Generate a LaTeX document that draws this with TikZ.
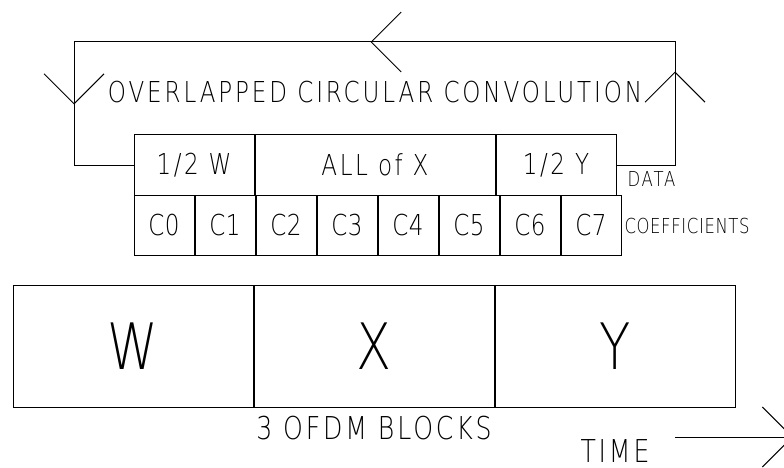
\documentclass[tikz,border=0pt]{standalone}
\usepackage{fontspec}
\newfontfamily\cadfont[FakeStretch=0.8, LetterSpace=9]{DejaVu Sans ExtraLight}
\usetikzlibrary{arrows.meta, positioning, decorations.markings}

\begin{document}
\begin{tikzpicture}[
  x=1pt, y=-1pt, line width=1pt,
  barb/.tip={Straight Barb[length=30pt, width=60pt]},
  cell/.style={draw, minimum height=60pt, minimum width=#1, inner sep=0pt,
    font=\cadfont\fontsize{28.8}{30}\selectfont},
  cell/.default=60pt,
  coef/.style={cell, font=\cadfont\fontsize{28.8}{30}\selectfont\addfontfeature{LetterSpace=2}},
  block/.style={draw, minimum width=240pt, minimum height=122pt, inner sep=0pt,
    font=\cadfont\fontsize{64}{66}\selectfont},
  lbl/.style={inner sep=0pt, font=\cadfont\fontsize{#1}{#1}\selectfont},
  flow/.style={postaction={decorate}, decoration={markings,
    mark=at position 152pt with {\arrow{barb}},
    mark=at position 486pt with {\arrow{barb}},
    mark=at position 845pt with {\arrow{barb}}}}
]
  \useasboundingbox (0,0) rectangle (784,468);

  % data row
  \node[cell=120pt] (halfW) at (194,165) {1/2 W};
  \node[cell=240pt, right=0pt of halfW] (allX) {ALL of X};
  \node[cell=120pt, right=0pt of allX] (halfY) {1/2 Y};

  % coefficient row
  \node[coef] (c0) at (164,225) {C0};
  \node[coef, right=0pt of c0] (c1) {C1};
  \node[coef, right=0pt of c1] (c2) {C2};
  \node[coef, right=0pt of c2] (c3) {C3};
  \node[coef, right=0pt of c3] (c4) {C4};
  \node[coef, right=0pt of c4] (c5) {C5};
  \node[coef, right=0pt of c5] (c6) {C6};
  \node[coef, right=0pt of c6] (c7) {C7};

  \node[lbl=20.6, anchor=west] (data) at (627,179) {DATA};
  \node[lbl=20.6, anchor=west] (coeff) at (624,226) {\addfontfeature{LetterSpace=3}COEFFICIENTS};

  % convolution loop
  \node[lbl=28.8] (conv) at (375,92) {\addfontfeature{LetterSpace=10}OVERLAPPED CIRCULAR CONVOLUTION};
  \coordinate (ne) at (675,42);
  \coordinate (nw) at (74,42);
  \draw[flow] (halfY.east) -| (ne) -- (nw) |- (halfW.west);

  % OFDM blocks
  \node[block] (blkW) at (133,346) {W};
  \node[block, right=0pt of blkW] (blkX) {X};
  \node[block, right=0pt of blkX] (blkY) {Y};
  \node[lbl=31.5, below=8pt of blkX] (blocks) {3 OFDM BLOCKS};

  % time axis
  \node[lbl=31.5, anchor=base] (time) at (615,462) {TIME};
  \coordinate (tstart) at (675,437);
  \coordinate (tend) at (793,437);
  \draw[-{barb}] (tstart) -- (tend);
\end{tikzpicture}
\end{document}
